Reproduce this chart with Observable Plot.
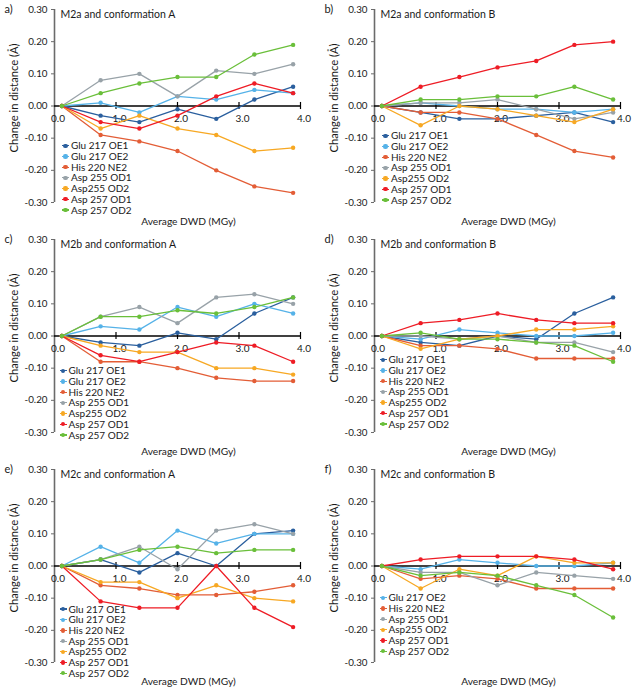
<!DOCTYPE html>
<html>
<head>
<meta charset="utf-8">
<script src="https://cdn.jsdelivr.net/npm/d3@7"></script>
<script src="https://cdn.jsdelivr.net/npm/@observablehq/plot@0.6"></script>
<style>
  body { margin: 0; background: #fff; font-family: Lato, "Open Sans", sans-serif; }
  #grid { position: relative; width: 640px; height: 688px; }
  .panel { position: absolute; width: 320px; height: 230px; }
  .panel svg { display: block; }
  .legend { position: absolute; font-size: 10px; color: #1a1a1a; }
  .legend .row { position: relative; height: 10.7px; line-height: 10.7px; white-space: nowrap; padding-left: 9px; }
  .legend .ln { position: absolute; left: 0; top: 4.8px; width: 7px; height: 1.2px; }
  .legend .dt { position: absolute; left: 1.4px; top: 3.3px; width: 4.2px; height: 4.2px; border-radius: 50%; }
</style>
</head>
<body>
<div id="grid"></div>
<script>
// ---- data ----
const dwd = [0.12, 0.75, 1.38, 2.0, 2.63, 3.25, 3.88];            // Average DWD (MGy)
const seriesNames = ["Glu 217 OE1", "Glu 217 OE2", "His 220 NE2", "Asp 255 OD1", "Asp255 OD2", "Asp 257 OD1", "Asp 257 OD2"];
const seriesColors = ["#2a5f9e", "#55b2e8", "#e35d36", "#98a2a8", "#f7a823", "#ee1c25", "#6abf3a"];
const yTicks = [-0.3, -0.2, -0.1, 0, 0.1, 0.2, 0.3];
const xTicks = [0, 1, 2, 3, 4];
const panelLetters = ["a)", "b)", "c)", "d)", "e)", "f)"];
const panelTitles = ["M2a and conformation A", "M2a and conformation B", "M2b and conformation A", "M2b and conformation B", "M2c and conformation A", "M2c and conformation B"];

// rows follow seriesNames order
const valuesA = [
  [0, -0.03, -0.05, -0.01, -0.04, 0.02, 0.06],
  [0, 0.01, -0.02, 0.03, 0.02, 0.05, 0.04],
  [0, -0.09, -0.11, -0.14, -0.20, -0.25, -0.27],
  [0, 0.08, 0.10, 0.03, 0.11, 0.10, 0.13],
  [0, -0.07, -0.03, -0.07, -0.09, -0.14, -0.13],
  [0, -0.05, -0.07, -0.03, 0.03, 0.07, 0.04],
  [0, 0.04, 0.07, 0.09, 0.09, 0.16, 0.19]
];
const valuesB = [
  [0, -0.02, -0.04, -0.04, -0.03, -0.02, -0.05],
  [0, 0.01, 0.00, -0.01, -0.01, -0.02, -0.01],
  [0, -0.02, -0.02, -0.04, -0.09, -0.14, -0.16],
  [0, 0.01, 0.01, 0.02, -0.01, -0.04, -0.02],
  [0, -0.06, 0.00, -0.01, -0.03, -0.05, -0.01],
  [0, 0.06, 0.09, 0.12, 0.14, 0.19, 0.20],
  [0, 0.02, 0.02, 0.03, 0.03, 0.06, 0.02]
];
const valuesC = [
  [0, -0.02, -0.03, 0.01, -0.01, 0.07, 0.12],
  [0, 0.03, 0.02, 0.09, 0.06, 0.10, 0.07],
  [0, -0.08, -0.08, -0.10, -0.13, -0.14, -0.14],
  [0, 0.06, 0.09, 0.04, 0.12, 0.13, 0.10],
  [0, -0.03, -0.05, -0.05, -0.10, -0.10, -0.12],
  [0, -0.06, -0.08, -0.05, -0.02, -0.03, -0.08],
  [0, 0.06, 0.06, 0.08, 0.07, 0.09, 0.12]
];
const valuesD = [
  [0, -0.02, -0.03, 0.00, -0.01, 0.07, 0.12],
  [0, -0.01, 0.02, 0.01, 0.00, 0.00, 0.01],
  [0, -0.03, -0.03, -0.04, -0.07, -0.07, -0.07],
  [0, 0.00, -0.01, 0.00, -0.02, -0.02, -0.05],
  [0, -0.04, -0.01, 0.00, 0.02, 0.02, 0.03],
  [0, 0.04, 0.05, 0.07, 0.05, 0.04, 0.04],
  [0, 0.01, -0.01, -0.01, -0.02, -0.03, -0.08]
];
const valuesE = [
  [0, 0.02, -0.02, 0.04, 0.00, 0.10, 0.11],
  [0, 0.06, 0.01, 0.11, 0.07, 0.10, 0.10],
  [0, -0.06, -0.07, -0.09, -0.09, -0.08, -0.06],
  [0, 0.02, 0.06, -0.01, 0.11, 0.13, 0.10],
  [0, -0.05, -0.05, -0.10, -0.06, -0.10, -0.11],
  [0, -0.11, -0.13, -0.13, 0.00, -0.13, -0.19],
  [0, 0.02, 0.05, 0.06, 0.04, 0.05, 0.05]
];
// panel f has no Glu 217 OE1 series
const valuesF = [
  null,
  [0, -0.01, 0.02, 0.01, 0.00, 0.00, 0.01],
  [0, -0.04, -0.03, -0.04, -0.07, -0.07, -0.07],
  [0, -0.02, -0.02, -0.06, -0.02, -0.03, -0.04],
  [0, -0.07, -0.01, -0.03, 0.03, 0.01, 0.01],
  [0, 0.02, 0.03, 0.03, 0.03, 0.02, -0.01],
  [0, -0.03, -0.02, -0.03, -0.06, -0.09, -0.16]
];
const panelValues = [valuesA, valuesB, valuesC, valuesD, valuesE, valuesF];

// ---- layout ----
const legendTops = [140.4, 130.4, 135.4, 124.4, 143.7, 132.4];
const legendLefts = [62, 62, 59.5, 59.5, 59.5, 59.5];

const grid = document.getElementById("grid");
const font = "Lato, 'Open Sans', sans-serif";
const ink = "#1a1a1a";

panelValues.forEach((vals, p) => {
  const div = document.createElement("div");
  div.className = "panel";
  div.style.left = (p % 2) * 320 + "px";
  div.style.top = Math.floor(p / 2) * 230 + "px";

  const seriesMarks = [];
  vals.forEach((v, si) => {
    if (!v) return;
    const rows = v.map((y, i) => ({x: dwd[i], y, s: seriesNames[si]}));
    seriesMarks.push(Plot.line(rows, {x: "x", y: "y", stroke: seriesColors[si], strokeWidth: 1.3}));
    seriesMarks.push(Plot.dot(rows, {x: "x", y: "y", fill: seriesColors[si], r: 2.2}));
  });

  const chart = Plot.plot({
    width: 320, height: 230,
    marginLeft: 54, marginRight: 20, marginTop: 9, marginBottom: 28,
    x: {domain: [0, 4], axis: null},
    y: {domain: [-0.3, 0.3], axis: null},
    style: {fontFamily: font, background: "white", color: ink, overflow: "visible"},
    marks: [
      Plot.ruleX([0], {y1: -0.3, y2: 0.3, stroke: "#6b6b6b", strokeWidth: 1.6}),
      Plot.axisY(yTicks, {label: null, tickFormat: d => d.toFixed(2), tickSize: 3, tickPadding: 4, fontSize: 9.8, stroke: "#6b6b6b", fill: ink}),
      Plot.ruleY([0], {x1: 0, x2: 4, stroke: "#000", strokeWidth: 1.5}),
      Plot.ruleX(xTicks.slice(1), {y1: -0.011, y2: 0.011, stroke: "#000", strokeWidth: 1.2}),
      Plot.text(xTicks, {x: d => d, y: 0, text: d => d.toFixed(1), dy: 12.5, dx: 3.5, fontSize: 10, fill: ink}),
      ...seriesMarks,
      Plot.text([panelLetters[p]], {frameAnchor: "top-left", dx: -50, dy: 0, textAnchor: "start", lineAnchor: "middle", fontSize: 11, fill: ink}),
      Plot.text([panelTitles[p]], {frameAnchor: "top-left", dx: 6, dy: 5, textAnchor: "start", lineAnchor: "middle", fontSize: 10.5, fill: ink}),
      Plot.text(["Change in distance (Å)"], {frameAnchor: "left", dx: -40, dy: -8, rotate: -90, textAnchor: "middle", lineAnchor: "middle", fontSize: 11.2, fill: ink}),
      Plot.text(["Average DWD (MGy)"], {frameAnchor: "bottom", dx: 11, dy: 19, textAnchor: "middle", lineAnchor: "middle", fontSize: 10.2, fill: ink})
    ]
  });
  div.appendChild(chart);

  const legend = document.createElement("div");
  legend.className = "legend";
  legend.style.left = legendLefts[p] + "px";
  legend.style.top = legendTops[p] + "px";
  vals.forEach((v, si) => {
    if (!v) return;
    const row = document.createElement("div");
    row.className = "row";
    row.innerHTML = `<span class="ln" style="background:${seriesColors[si]}"></span><span class="dt" style="background:${seriesColors[si]}"></span>${seriesNames[si]}`;
    legend.appendChild(row);
  });
  div.appendChild(legend);
  grid.appendChild(div);
});
</script>
</body>
</html>
